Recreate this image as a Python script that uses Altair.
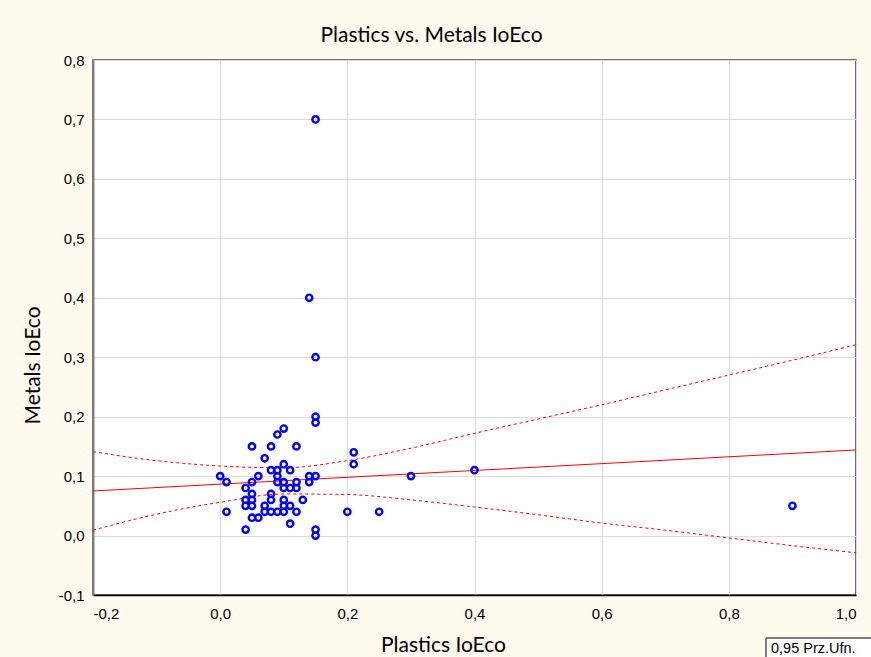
import altair as alt
import pandas as pd

plastics = [0.15, 0.14, 0.15, 0.15, 0.15, 0.10, 0.09, 0.05, 0.08, 0.12,
            0.07, 0.21, 0.21, 0.10, 0.08, 0.09, 0.11, 0.00, 0.01, 0.06,
            0.05, 0.09, 0.09, 0.10, 0.10, 0.11, 0.12, 0.12, 0.14, 0.14,
            0.15, 0.04, 0.05, 0.04, 0.05, 0.04, 0.05, 0.08, 0.08, 0.13,
            0.10, 0.10, 0.11, 0.07, 0.07, 0.08, 0.09, 0.10, 0.12, 0.01,
            0.20, 0.25, 0.05, 0.06, 0.11, 0.04, 0.15, 0.15, 0.30, 0.40,
            0.90]
metals = [0.70, 0.40, 0.30, 0.20, 0.19, 0.18, 0.17, 0.15, 0.15, 0.15,
          0.13, 0.14, 0.12, 0.12, 0.11, 0.11, 0.11, 0.10, 0.09, 0.10,
          0.09, 0.10, 0.09, 0.09, 0.08, 0.08, 0.09, 0.08, 0.10, 0.09,
          0.10, 0.08, 0.07, 0.06, 0.06, 0.05, 0.05, 0.07, 0.06, 0.06,
          0.06, 0.05, 0.05, 0.05, 0.04, 0.04, 0.04, 0.04, 0.04, 0.04,
          0.04, 0.04, 0.03, 0.03, 0.02, 0.01, 0.01, 0.00, 0.10, 0.11,
          0.05]

# fitted line
fit_x = [-0.2, 1.0]
fit_y = [0.075, 0.144]

# 95% confidence band
band_x = [-0.2, -0.1, 0.0, 0.1, 0.2, 0.3, 0.4, 0.5, 0.6, 0.7, 0.8, 0.9, 1.0]
band_hi = [0.141, 0.126, 0.117, 0.114, 0.126, 0.147, 0.172, 0.196, 0.220, 0.245, 0.270, 0.295, 0.321]
band_lo = [0.009, 0.036, 0.056, 0.070, 0.069, 0.060, 0.048, 0.035, 0.021, 0.009, -0.004, -0.017, -0.029]

x_ticks = [-0.2, 0.0, 0.2, 0.4, 0.6, 0.8, 1.0]
y_ticks = [-0.1, 0.0, 0.1, 0.2, 0.3, 0.4, 0.5, 0.6, 0.7, 0.8]

pts = pd.DataFrame({"x": plastics, "y": metals})
fit_df = pd.DataFrame({"x": fit_x, "fit": fit_y})
band_df = pd.DataFrame({"x": band_x, "hi": band_hi, "lo": band_lo})

xs = alt.Scale(domain=[-0.2, 1.0], nice=False, zero=False)
ys = alt.Scale(domain=[-0.1, 0.8], nice=False, zero=False)

lab = "replace(replace(format(datum.value, '.1f'), '.', ','), '\u2212', '-')"

x_axis = alt.Axis(values=x_ticks, labelExpr=lab, title="Plastics IoEco",
                  grid=True, gridColor="#dcdcdc", ticks=False,
                  domainColor="#000000", domainWidth=1.5,
                  labelFont="Liberation Sans", labelFontSize=15, labelColor="#000",
                  labelPadding=11,
                  titleFont="Lato", titleFontSize=21, titleFontWeight="normal",
                  titleColor="#000", titleX=350, titleY=50,
                  titleBaseline="middle", titleAnchor=None)
y_axis = alt.Axis(values=y_ticks, labelExpr=lab, title="Metals IoEco",
                  grid=True, gridColor="#dcdcdc", ticks=False,
                  domainColor="#808080", domainWidth=2,
                  labelFont="Liberation Sans", labelFontSize=15, labelColor="#000",
                  labelPadding=9,
                  titleFont="Lato", titleFontSize=21, titleFontWeight="normal",
                  titleColor="#000", titleX=-60, titleY=305,
                  titleBaseline="middle", titleAlign="center")

points = alt.Chart(pts).mark_point(
    shape="circle", filled=False, color="#0000ff", size=40, strokeWidth=2.4, opacity=1
).encode(
    x=alt.X("x:Q", scale=xs, axis=x_axis),
    y=alt.Y("y:Q", scale=ys, axis=y_axis),
)

line_fit = alt.Chart(fit_df).mark_line(color="#ff0000", strokeWidth=1).encode(
    x=alt.X("x:Q", scale=xs), y=alt.Y("fit:Q", scale=ys))
band = alt.Chart(band_df)
line_hi = band.mark_line(color="#ff0000", strokeWidth=1, strokeDash=[3, 3],
                         interpolate="monotone").encode(
    x=alt.X("x:Q", scale=xs), y=alt.Y("hi:Q", scale=ys))
line_lo = band.mark_line(color="#ff0000", strokeWidth=1, strokeDash=[3, 3],
                         interpolate="monotone").encode(
    x=alt.X("x:Q", scale=xs), y=alt.Y("lo:Q", scale=ys))

legend_box = alt.Chart(pd.DataFrame({"a": [0]})).mark_rect(
    fill="#ffffff", stroke="#000000", strokeWidth=1
).encode(x=alt.value(673), x2=alt.value(800), y=alt.value(578), y2=alt.value(610))
legend_txt = alt.Chart(pd.DataFrame({"t": ["0,95 Prz.Ufn."]})).mark_text(
    align="left", baseline="middle", font="Liberation Sans", fontSize=14.5, color="#000"
).encode(text="t:N", x=alt.value(678), y=alt.value(589))

chart = alt.layer(
    line_hi, line_lo, line_fit, points, legend_box, legend_txt
).properties(
    width=763, height=535,
    title=alt.TitleParams("Plastics vs. Metals IoEco", font="Lato", fontSize=21,
                          fontWeight="normal", color="#000", anchor="middle",
                          dx=-43, offset=7),
    autosize=alt.AutoSizeParams(type="none"),
    padding={"left": 93, "top": 60, "right": 15, "bottom": 62},
    background="#fff9ee",
).configure_view(
    stroke="#404040", strokeWidth=1.5, fill="#ffffff"
)

chart.save("out.html", embed_options={"renderer": "svg", "actions": False})
